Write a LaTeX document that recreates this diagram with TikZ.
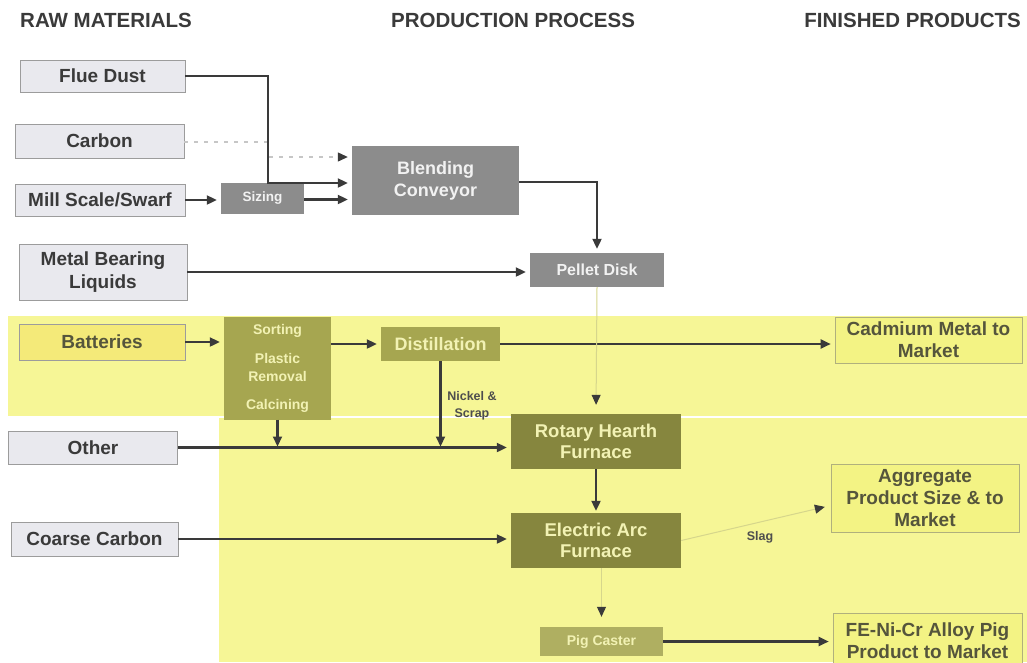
\documentclass[tikz,border=0pt]{standalone}
\usepackage{fontspec}
\setmainfont{Liberation Sans}
\usetikzlibrary{arrows.meta}

\definecolor{inkgray}{HTML}{3A3A3A}
\definecolor{rawfill}{HTML}{E9E9EE}
\definecolor{rawedge}{HTML}{9C9C9C}
\definecolor{procgray}{HTML}{8C8C8C}
\definecolor{bandyellow}{HTML}{F6F696}
\definecolor{boxyellow}{HTML}{F3F384}
\definecolor{olivelight}{HTML}{A6A650}
\definecolor{olivedark}{HTML}{86863E}
\definecolor{olivetext}{HTML}{F2F2B4}
\definecolor{yellowtext}{HTML}{55553C}
\definecolor{faintline}{HTML}{D6D68C}

\tikzset{
  every node/.style={inner sep=0pt, align=center},
  header/.style={font=\fontsize{20.5}{24}\selectfont\bfseries, text=inkgray, anchor=base west},
  rawbox/.style={draw=rawedge, line width=0.8pt, fill=rawfill, text=inkgray,
    font=\fontsize{19}{23}\selectfont\bfseries},
  yelbox/.style={draw=rawedge!80!yellow, line width=0.6pt, fill=boxyellow, text=yellowtext,
    font=\fontsize{19}{22}\selectfont\bfseries},
  graybox/.style={fill=procgray, text=white!95!black},
  olivebox/.style={fill=olivelight, text=olivetext},
  darkolive/.style={fill=olivedark, text=olivetext,
    font=\fontsize{18.5}{21.5}\selectfont\bfseries},
  tip/.style={-{Triangle[length=10pt,width=9pt]}},
  flow/.style={draw=inkgray, line width=2.1pt, tip, shorten >=4pt},
  faintflow/.style={draw=faintline, line width=1pt, shorten >=4pt,
    -{Triangle[length=10pt,width=9pt,color=inkgray]}},
  smalllabel/.style={font=\fontsize{12.5}{17}\selectfont\bfseries, text=inkgray!90}
}

\begin{document}
\begin{tikzpicture}[x=1pt,y=-1pt]
  \useasboundingbox (0,0) rectangle (1027,662);
  \clip (0,0) rectangle (1027,662);
  \fill[white] (0,0) rectangle (1027,662);

  % yellow areas: battery band and lower smelting region
  \fill[bandyellow] (8,316) rectangle (1027,416);
  \fill[bandyellow] (219,418) rectangle (1027,662);

  % column headings
  \node[header] (hraw)  at (20,27)  {RAW MATERIALS};
  \node[header] (hproc) at (391,27) {PRODUCTION PROCESS};
  \node[header, anchor=base east] (hfin) at (1021,27) {FINISHED PRODUCTS};

  % raw materials
  \node[rawbox, minimum width=165, minimum height=32] (flue)   at (102.5,76)  {Flue Dust};
  \node[rawbox, minimum width=169, minimum height=34] (carbon) at (99.5,141)  {Carbon};
  \node[rawbox, minimum width=170, minimum height=32] (mill)   at (100,200)   {Mill Scale/Swarf};
  \node[rawbox, minimum width=168, minimum height=56] (metal)  at (103,272)   {Metal Bearing\\Liquids};
  \node[yelbox, draw=rawedge, minimum width=166, minimum height=36, fill=boxyellow!92!orange] (batt) at (102,342) {Batteries};
  \node[rawbox, minimum width=169, minimum height=33] (other)  at (93,447.5)  {Other};
  \node[rawbox, minimum width=167, minimum height=34] (coarse) at (94.5,539)  {Coarse Carbon};

  % production process
  \node[graybox, minimum width=83, minimum height=31,
        font=\fontsize{13.5}{16}\selectfont\bfseries] (sizing) at (262.5,198.5) {Sizing};
  \node[graybox, minimum width=167, minimum height=69,
        font=\fontsize{18}{22}\selectfont\bfseries] (blend) at (435.5,180.5) {Blending\\Conveyor};
  \node[graybox, minimum width=134, minimum height=34,
        font=\fontsize{16}{20}\selectfont\bfseries] (pellet) at (597,270) {Pellet Disk};
  \node[olivebox, minimum width=107, minimum height=103,
        font=\fontsize{14}{18}\selectfont\bfseries] (sort) at (277.5,368)
        {Sorting\\[11pt]Plastic\\Removal\\[10pt]Calcining};
  \node[olivebox, minimum width=119, minimum height=34,
        font=\fontsize{18}{22}\selectfont\bfseries] (dist) at (440.5,344) {Distillation};
  \node[darkolive, minimum width=170, minimum height=55] (rhf) at (596,441.5) {Rotary Hearth\\Furnace};
  \node[darkolive, minimum width=170, minimum height=55] (eaf) at (596,540.5) {Electric Arc\\Furnace};
  \node[olivebox, fill=olivelight!90!white, minimum width=123, minimum height=29,
        font=\fontsize{14}{18}\selectfont\bfseries] (pig) at (601.5,641.5) {Pig Caster};

  % finished products
  \node[yelbox, minimum width=187, minimum height=46] (cad) at (928.5,340) {Cadmium Metal to\\Market};
  \node[yelbox, minimum width=188, minimum height=68] (agg) at (925,498.5) {Aggregate\\Product Size \& to\\Market};
  \node[yelbox, minimum width=189, minimum height=56] (fe)  at (927.5,641) {FE-Ni-Cr Alloy Pig\\Product to Market};

  % feed to blending
  \coordinate (jflue) at (268,183);
  \coordinate (jcarb) at (268,142);
  \coordinate (jcarb2) at (268,157);
  \draw[draw=gray!45, line width=1.2pt, dash pattern=on 4pt off 6pt, shorten >=4pt,
        -{Triangle[length=10pt,width=9pt,color=inkgray]}]
    (carbon.east |- jcarb) -- (jcarb) -- (jcarb2) -- (jcarb2 -| blend.west);
  \draw[flow] (flue.east) -| (jflue) -- (jflue -| blend.west);
  \draw[flow] (mill.east) -- (mill.east -| sizing.west);
  \draw[flow] (sizing.east |- 0,199.5) -- (blend.west |- 0,199.5);
  \draw[flow] (blend.east |- 0,182) -| (pellet.north);
  \draw[flow] (metal.east) -- (metal.east -| pellet.west);

  % battery recycling
  \draw[flow] (batt.east) -- (batt.east -| sort.west);
  \draw[flow] (sort.east |- dist.west) -- (dist.west);
  \draw[flow] (dist.east) -- (dist.east -| cad.west);
  \draw[flow, shorten >=1pt] (dist.south) -- (dist.south |- other.east);
  \draw[flow, shorten >=1pt] (sort.south) -- (sort.south |- other.east);
  \node[smalllabel] (nickel) at (472,406) {Nickel \&\\Scrap};

  % furnaces
  \draw[flow] (other.east) -- (other.east -| rhf.west);
  \draw[faintflow, shorten >=9pt] (pellet.south) -- (rhf.north);
  \draw[flow, shorten >=2pt] (rhf.south) -- (eaf.north);
  \draw[flow] (coarse.east) -- (coarse.east -| eaf.west);
  \draw[faintflow, shorten >=6pt] (eaf.east) -- ([yshift=-7pt]agg.west);
  \node[smalllabel] (slag) at (760,537) {Slag};
  \draw[faintflow, shorten >=10pt] (pig.north |- eaf.south) -- (pig.north);
  \draw[flow] (pig.east) -- (pig.east -| fe.west);
\end{tikzpicture}
\end{document}
